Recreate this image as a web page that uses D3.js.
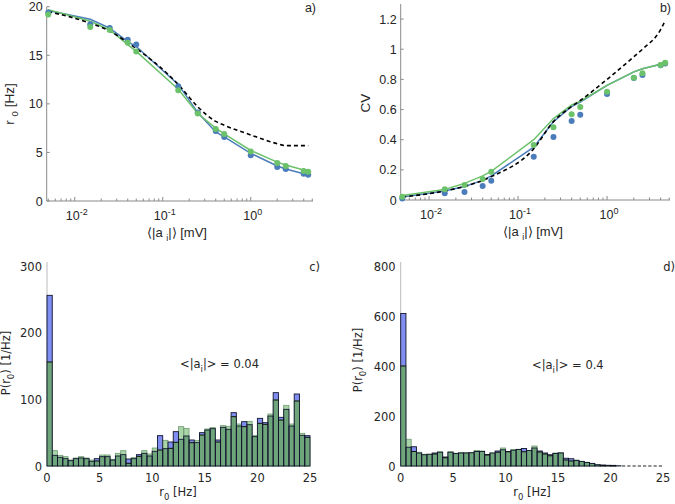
<!DOCTYPE html>
<html><head><meta charset="utf-8">
<script src="https://cdn.jsdelivr.net/npm/d3@7/dist/d3.min.js"></script>
<style>body{margin:0;background:#fff}svg{display:block}</style>
</head><body>
<svg id="c" width="675" height="504"></svg>
<script>
// ---------------- data ----------------
const aVals = [0.005,0.015,0.025,0.04,0.05,0.15,0.25,0.4,0.5,1,2,2.5,4,4.5];
// panel a: r0 [Hz]
const r0BlueDots  = [19.4,18.2,17.8,16.6,16.1,11.8,9.1,7.2,6.6,4.7,3.5,3.3,2.8,2.7];
const r0GreenDots = [19.2,17.9,17.6,16.3,15.4,11.4,9.0,7.4,6.9,5.1,3.9,3.6,3.1,3.0];
const r0BlueLine  = [19.6,18.7,17.8,16.4,15.9,12.0,9.1,7.1,6.6,4.9,3.6,3.3,2.8,2.7];
const r0GreenLine = [19.7,18.5,17.6,16.1,15.4,11.5,9.0,7.5,6.9,5.2,4.0,3.7,3.2,3.1];
const r0Theory    = [19.5,18.3,17.5,16.3,15.7,12.0,9.7,8.2,7.8,6.8,5.9,5.7,5.7,5.7];
// panel b: CV
const cvBlueDots  = [0.01,0.044,0.053,0.093,0.128,0.287,0.418,0.524,0.566,0.703,0.81,0.829,0.893,0.905];
const cvGreenDots = [0.022,0.071,0.10,0.139,0.188,0.365,0.482,0.568,0.617,0.718,0.811,0.84,0.895,0.91];
const cvBlueLine  = [0.02,0.06,0.09,0.13,0.16,0.35,0.52,0.62,0.65,0.76,0.85,0.87,0.90,0.91];
const cvGreenLine = [0.03,0.07,0.11,0.16,0.19,0.40,0.54,0.63,0.655,0.76,0.85,0.87,0.90,0.915];
const cvTheory    = [0.02,0.06,0.09,0.13,0.155,0.34,0.52,0.62,0.66,0.80,0.95,1.0,1.13,1.19];
// histograms (bin width 0.5 Hz, 0..25 Hz)
const binWidth = 0.5;
const histCBlue  = [256,16,13,11,8,11,12,11,7,11,14,14,9,15,17,10.5,11,17,19,15,22,45.5,26,36,51.5,40,45,39,35,50,54,56,39,58,55,80,60,66.5,62,44,71.5,65,75,110,73,85,60,108,46,45.5];
const histCGreen = [156,23,16,14,9,12,14,12,9,7.5,16.5,16.5,10,19,23,4,12.5,14.5,23,18,27,24,38.5,26.5,35.5,59,56.5,35,38,46.5,55.5,57.5,36,60.5,59.5,74,63,59,67,46,64,62.5,78,99,69,91,63,97.5,49,43];
const histDBlue  = [610,75,77,52,45,47,52,55,36,55,50,52,52,53,58,58,46,52,60,65,58,63,66,70,62,72,60,52,45,50,52,31,29,22,18,14,10,5,4,2.5,2.5,1,0,0,0,0,0,0,0,0];
const histDGreen = [400,107,58,55,47,47,48,57,33,57,51,54,53,54,62,60,44,52,55,72,57,66,67,57,62,80,56,48,41,52,54,24,20,24,19,15,11,5,1.5,3,1,0,0,0,0,0,0,0,0,0];
const logTicks = [0.01,0.1,1];
const logTickExp = ["-2","-1","0"];
const r0Ticks = [0,5,10,15,20];
const cvTicks = [0,0.2,0.4,0.6,0.8,1,1.2];
const hzTicks = [0,5,10,15,20,25];
const pcTicks = [0,100,200,300];
const pdTicks = [0,200,400,600,800];

// ---------------- style ----------------
const BLUE = "#4a7dba", GREEN = "#6cc26a", AXIS = "#8a8a8a", TXT = "#262626";
const H_BOTH = "#6fa57a", H_GREEN = "#a9d5a9", H_BLUE = "#7f8ef0";
const FA = "Liberation Sans, Arial, sans-serif";
const FD = "DejaVu Sans, sans-serif";
const svg = d3.select("#c");

function logPanel(opt){
  const g = svg.append("g");
  const x = d3.scaleLog().domain([0.0048,5.1]).range(opt.xr);
  const y = d3.scaleLinear().domain(opt.yd).range(opt.yr);
  g.append("line").attr("x1",opt.xr[0]).attr("x2",opt.xr[1]).attr("y1",opt.yr[0]).attr("y2",opt.yr[0]).attr("stroke",AXIS);
  g.append("line").attr("x1",opt.xr[0]).attr("x2",opt.xr[0]).attr("y1",opt.yr[0]).attr("y2",opt.yr[1]).attr("stroke",AXIS);
  const minors = [];
  for (let e=-3;e<=1;e++) for (let m=1;m<=9;m++){ const v=m*Math.pow(10,e); if (v>=0.0048 && v<=5.1) minors.push({v, major:m===1}); }
  g.selectAll(".mt").data(minors).join("line")
    .attr("x1",d=>x(d.v)).attr("x2",d=>x(d.v))
    .attr("y1",opt.yr[0]).attr("y2",d=>opt.yr[0]-(d.major?4:2.5)).attr("stroke",AXIS);
  logTicks.forEach((t,i)=>{
    const tx = g.append("text").attr("x",x(t)+2).attr("y",opt.yr[0]+19).attr("text-anchor","middle")
      .attr("font-family",FA).attr("font-size",12.5).attr("fill",TXT);
    tx.append("tspan").text("10");
    tx.append("tspan").attr("dy",-5).attr("font-size",9).text(logTickExp[i]);
  });
  g.selectAll(".yt").data(opt.yt).join("line")
    .attr("x1",opt.xr[0]).attr("x2",opt.xr[0]+3).attr("y1",d=>y(d)).attr("y2",d=>y(d)).attr("stroke",AXIS);
  g.selectAll(".yl").data(opt.yt).join("text")
    .attr("x",opt.xr[0]-4).attr("y",d=>y(d)+4.5).attr("text-anchor","end")
    .attr("font-family",FA).attr("font-size",12.5).attr("fill",TXT).text(opt.yfmt);
  const xl = g.append("text").attr("x",opt.xlx).attr("y",opt.yr[0]+36).attr("text-anchor","middle")
    .attr("font-family",FA).attr("font-size",13).attr("fill",TXT);
  xl.append("tspan").text("⟨|a ");
  xl.append("tspan").attr("dy",4).attr("font-size",9).text("i");
  xl.append("tspan").attr("dy",-4).text("|⟩ [mV]");
  const yl = g.append("text").attr("transform",`translate(${opt.ylx},${opt.yly}) rotate(-90)`)
    .attr("text-anchor","middle").attr("font-family",FA).attr("font-size",13.5).attr("fill",TXT);
  opt.ylab(yl);
  const line = vals => d3.line().x((d,i)=>x(aVals[i])).y(d=>y(d))(vals);
  g.append("path").attr("d",line(opt.blueLine)).attr("fill","none").attr("stroke",BLUE).attr("stroke-width",1.5);
  g.append("path").attr("d",line(opt.greenLine)).attr("fill","none").attr("stroke",GREEN).attr("stroke-width",1.5);
  g.append("path").attr("d",d3.line().curve(d3.curveMonotoneX).x((d,i)=>x(aVals[i])).y(d=>y(d))(opt.theory))
    .attr("fill","none").attr("stroke","#000").attr("stroke-width",1.6).attr("stroke-dasharray","4,3");
  g.selectAll(".bd").data(opt.blueDots).join("circle").attr("cx",(d,i)=>x(aVals[i])).attr("cy",d=>y(d)).attr("r",3).attr("fill",BLUE);
  g.selectAll(".gd").data(opt.greenDots).join("circle").attr("cx",(d,i)=>x(aVals[i])).attr("cy",d=>y(d)).attr("r",3).attr("fill",GREEN);
  g.append("text").attr("x",opt.lab[0]).attr("y",opt.lab[1]).attr("text-anchor","end")
    .attr("font-family",FA).attr("font-size",12.5).attr("fill",TXT).text(opt.label);
}

logPanel({xr:[46.7,313], yr:[201,6.7], yd:[0,20], yt:r0Ticks, yfmt:d=>d,
  xlx:177, ylx:14, yly:104,
  ylab: t=>{ t.append("tspan").text("r "); t.append("tspan").attr("dy",4).attr("font-size",9.5).text("0"); t.append("tspan").attr("dy",-4).text(" [Hz]"); },
  blueLine:r0BlueLine, greenLine:r0GreenLine, theory:r0Theory, blueDots:r0BlueDots, greenDots:r0GreenDots,
  label:"a)", lab:[316,12]});
logPanel({xr:[400.7,670], yr:[200,4], yd:[0,1.3], yt:cvTicks, yfmt:d=>d,
  xlx:533, ylx:370, yly:103,
  ylab: t=>{ t.text("CV"); },
  blueLine:cvBlueLine, greenLine:cvGreenLine, theory:cvTheory, blueDots:cvBlueDots, greenDots:cvGreenDots,
  label:"b)", lab:[671,12]});

function histPanel(opt){
  const g = svg.append("g");
  const x = d3.scaleLinear().domain([0,25]).range(opt.xr);
  const y = d3.scaleLinear().domain(opt.yd).range([466,266]);
  g.append("line").attr("x1",opt.xr[0]).attr("x2",opt.xr[0]).attr("y1",466).attr("y2",262).attr("stroke","#bbb");
  const bw = binWidth, w = x(bw)-x(0);
  const bins = opt.blue.map((b,i)=>({i, b, gr:opt.green[i]}));
  // overlapping part (both histograms)
  g.selectAll(".both").data(bins.filter(o=>Math.min(o.b,o.gr)>0)).join("rect")
    .attr("x",o=>x(o.i*bw)).attr("width",w).attr("y",o=>y(Math.min(o.b,o.gr))).attr("height",o=>466-y(Math.min(o.b,o.gr)))
    .attr("fill",H_BOTH);
  // excess part (whichever is higher)
  g.selectAll(".ex").data(bins.filter(o=>o.b!==o.gr)).join("rect")
    .attr("x",o=>x(o.i*bw)).attr("width",w).attr("y",o=>y(Math.max(o.b,o.gr))).attr("height",o=>y(Math.min(o.b,o.gr))-y(Math.max(o.b,o.gr)))
    .attr("fill",o=>o.b>o.gr?H_BLUE:H_GREEN);
  // green outlines
  g.selectAll(".og").data(bins.filter(o=>o.gr>0)).join("rect")
    .attr("x",o=>x(o.i*bw)).attr("width",w).attr("y",o=>y(o.gr)).attr("height",o=>466-y(o.gr))
    .attr("fill","none").attr("stroke","#6f9a72").attr("stroke-width",0.8);
  // blue outlines (dark edges)
  g.selectAll(".ob").data(bins.filter(o=>o.b>0)).join("rect")
    .attr("x",o=>x(o.i*bw)).attr("width",w).attr("y",o=>y(o.b)).attr("height",o=>466-y(o.b))
    .attr("fill","none").attr("stroke",o=>"#10142e").attr("stroke-width",0.9);
  // green-top line inside taller blue bars
  g.selectAll(".gt").data(bins.filter(o=>o.b>o.gr && o.gr>0)).join("line")
    .attr("x1",o=>x(o.i*bw)).attr("x2",o=>x((o.i+1)*bw)).attr("y1",o=>y(o.gr)).attr("y2",o=>y(o.gr))
    .attr("stroke","#111").attr("stroke-width",1);
  // empty bins drawn as short edge segments on the baseline
  g.selectAll(".hz").data(bins.filter(o=>o.b===0)).join("line")
    .attr("x1",o=>x(o.i*bw)+1).attr("x2",o=>x((o.i+1)*bw)-1).attr("y1",466).attr("y2",466)
    .attr("stroke","#222").attr("stroke-width",1);
  g.selectAll(".yl").data(opt.yt).join("text")
    .attr("x",opt.xr[0]-5).attr("y",d=>y(d)+4.5).attr("text-anchor","end")
    .attr("font-family",FD).attr("font-size",11.5).attr("fill",TXT).text(d=>d);
  g.selectAll(".xl").data(hzTicks).join("text")
    .attr("x",d=>x(d)).attr("y",482).attr("text-anchor","middle")
    .attr("font-family",FD).attr("font-size",11.5).attr("fill",TXT).text(d=>d);
  const xl = g.append("text").attr("x",opt.xlx).attr("y",496).attr("text-anchor","middle")
    .attr("font-family",FD).attr("font-size",11.5).attr("fill",TXT);
  xl.append("tspan").text("r");
  xl.append("tspan").attr("dy",4).attr("font-size",8.5).text("0");
  xl.append("tspan").attr("dy",-4).text(" [Hz]");
  const yl = g.append("text").attr("transform",`translate(${opt.ylx},${opt.yly}) rotate(-90)`)
    .attr("text-anchor","middle").attr("font-family",FD).attr("font-size",11.5).attr("fill",TXT);
  yl.append("tspan").text("P(r");
  yl.append("tspan").attr("dy",4).attr("font-size",8.5).text("0");
  yl.append("tspan").attr("dy",-4).text(") [1/Hz]");
  const an = g.append("text").attr("x",opt.an[0]).attr("y",opt.an[1])
    .attr("font-family",FD).attr("font-size",11.5).attr("fill",TXT);
  an.append("tspan").text("<|a");
  an.append("tspan").attr("dy",3.5).attr("font-size",8.5).text("i");
  an.append("tspan").attr("dy",-3.5).text("|> = " + opt.anVal);
  g.append("text").attr("x",opt.lab[0]).attr("y",opt.lab[1]).attr("text-anchor","end")
    .attr("font-family",FD).attr("font-size",11.5).attr("fill",TXT).text(opt.label);
}

histPanel({xr:[47,310], yd:[0,300], yt:pcTicks, blue:histCBlue, green:histCGreen,
  xlx:178, ylx:10, yly:363, an:[180,368], anVal:"0.04", label:"c)", lab:[320,271]});
histPanel({xr:[400.7,663], yd:[0,800], yt:pdTicks, blue:histDBlue, green:histDGreen,
  xlx:532, ylx:362, yly:360, an:[532,369], anVal:"0.4", label:"d)", lab:[675,271]});
</script>
</body></html>
